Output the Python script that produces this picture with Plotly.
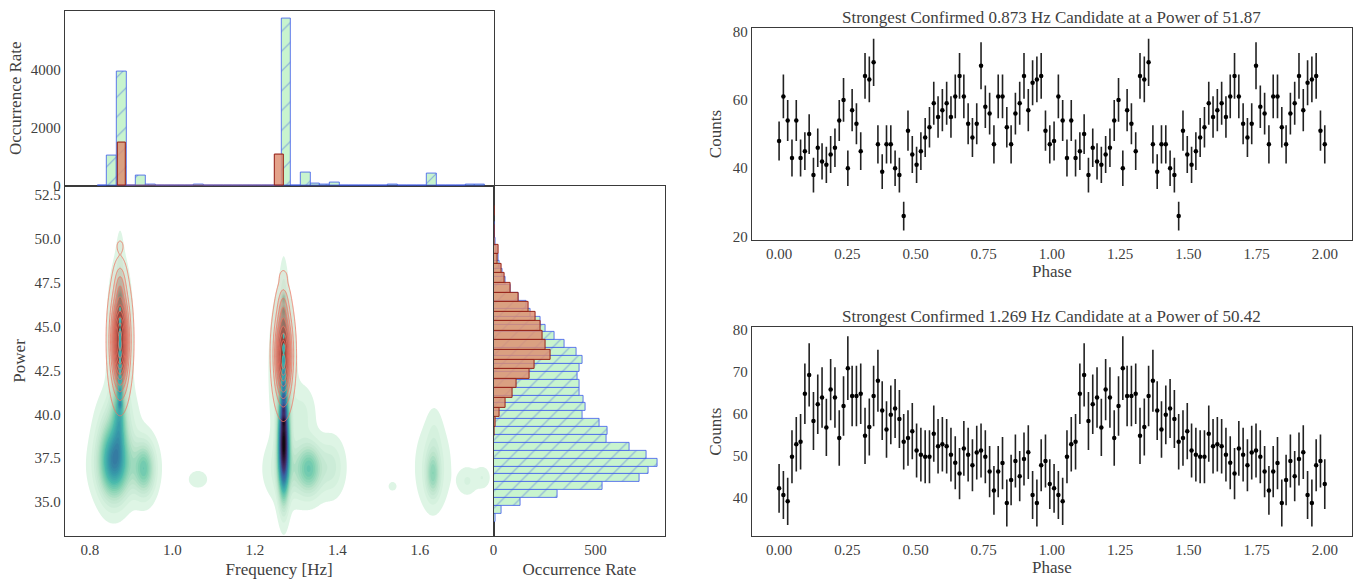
import numpy as np
import plotly.graph_objects as go

# ---------------- histogram of all candidates over frequency ----------------
freq_all_lo, freq_all_hi = 0.8182, 1.7576
freq_all_counts = [10, 1040, 3940, 15, 360, 60, 3, 5, 15, 2,
                   45, 5, 5, 15, 10, 3, 3, 2, 20, 5766,
                   10, 450, 90, 60, 130, 5, 3, 3, 3, 3,
                   50, 3, 2, 20, 416, 2, 15, 2, 60, 45]

# confirmed candidates over frequency
freq_conf_lo, freq_conf_hi = 0.8664, 1.2692
freq_conf_counts = [1486] + [0] * 17 + [1070]

# ---------------- histograms over power ----------------
pow_all_lo, pow_all_hi = 33.88, 51.87
pow_all_counts = [11, 40, 133, 316, 532, 716, 760, 804, 749, 668,
                  553, 560, 521, 438, 451, 440, 420, 423, 414, 423,
                  435, 407, 348, 301, 256, 228, 182, 163, 121, 85,
                  60, 44, 28, 25, 15, 8, 5, 4, 2, 1]

pow_conf_lo, pow_conf_hi = 38.75, 51.87
pow_conf_counts = [4, 11, 30, 60, 94, 112, 174, 199, 280, 257, 239, 228,
                   207, 170, 121, 81, 55, 41, 20, 23, 6, 5, 2, 3]

# ---------------- density components (frequency, power, widths, peak) ----------------
green_f = [0.857, 0.880, 0.932, 0.873, 0.870, 0.873, 0.868,
           1.270, 1.270, 1.268, 1.333, 1.385, 1.290, 1.314,
           1.062, 1.534, 1.632, 1.632, 1.635, 1.715, 1.752]
green_p = [37.4, 37.0, 36.9, 43.8, 40.0, 44.3, 39.5,
           38.3, 42.5, 42.5, 36.9, 37.0, 36.9, 40.0,
           36.3, 35.9, 36.6, 37.0, 38.8, 36.2, 36.4]
green_sf = [0.022, 0.040, 0.016, 0.0055, 0.011, 0.0175, 0.028,
            0.0085, 0.006, 0.018, 0.019, 0.020, 0.035, 0.020,
            0.015, 0.0075, 0.011, 0.026, 0.012, 0.015, 0.012]
green_sp = [1.35, 1.1, 0.95, 2.6, 1.4, 2.6, 1.3,
            1.75, 2.6, 2.6, 0.9, 1.0, 1.1, 1.0,
            0.32, 0.19, 0.85, 1.5, 1.0, 0.5, 0.4]
green_amp = [0.45, 0.11, 0.24, 0.22, 0.22, 0.09, 0.07,
             1.00, 0.22, 0.09, 0.24, 0.08, 0.11, 0.05,
             0.04, 0.03, 0.18, 0.055, 0.03, 0.045, 0.04]

# narrow spots along the two candidate ridges
ridge_a_p = [40.6, 41.3, 42.0, 42.7, 43.4, 44.0, 44.6, 45.3, 46.0, 46.7]
ridge_b_p = [39.6, 40.3, 41.0, 41.7, 42.4, 43.1, 43.8, 44.5, 45.2, 45.9, 46.6]
ridge_amp = 0.16

red_f = [0.873, 0.873, 0.873, 1.269, 1.269, 1.269]
red_p = [44.2, 47.5, 49.6, 43.4, 46.3, 47.85]
red_sf = [0.0139, 0.009, 0.006, 0.0135, 0.009, 0.006]
red_sp = [1.75, 0.8, 0.25, 1.6, 0.8, 0.25]
red_amp = [1.0, 0.15, 0.08, 0.85, 0.15, 0.08]

# ---------------- folded light curves ----------------
counts_873 = [48, 61, 54, 43, 54, 43, 45, 50, 38, 46,
              42, 41, 44, 46, 54, 60, 40, 57, 53, 45,
              67, 66, 71, 47, 39, 47, 47, 40, 38, 26,
              51, 44, 41, 45, 49, 52, 59, 55, 57, 59,
              55, 61, 67, 61, 53, 49, 53, 70, 58, 56,
              47, 61, 61, 52, 47, 56, 59, 67, 57, 65,
              66, 67, 51, 47]
err_873 = [5.7, 6.4, 6.0, 5.4, 6.0, 5.4, 5.5, 5.8, 5.1, 5.6,
           5.3, 5.3, 5.4, 5.6, 6.0, 6.4, 5.2, 6.2, 6.0, 5.5,
           6.7, 6.7, 6.9, 5.6, 5.1, 5.6, 5.6, 5.2, 5.1, 4.2,
           5.9, 5.4, 5.3, 5.5, 5.7, 5.9, 6.3, 6.1, 6.2, 6.3,
           6.1, 6.4, 6.7, 6.4, 6.0, 5.7, 6.0, 6.9, 6.2, 6.1,
           5.6, 6.4, 6.4, 5.9, 5.6, 6.1, 6.3, 6.7, 6.2, 6.6,
           6.7, 6.7, 5.9, 5.6]
counts_1269 = [42.2, 40.6, 39.1, 49.7, 52.7, 53.3, 64.7, 69.2, 58.2, 62.2,
               63.8, 56.7, 65.7, 63.8, 54.2, 61.8, 70.8, 64.2, 64.2, 64.7,
               54.7, 56.8, 64.2, 67.8, 60.7, 56.2, 59.7, 61.2, 58.7, 53.3,
               54.2, 55.8, 51.2, 50.2, 49.7, 49.7, 55.2, 52.2, 52.7, 52.2,
               50.2, 48.3, 45.7, 51.7, 50.2, 47.7, 50.7, 51.2, 49.7, 46.2,
               41.7, 46.2, 48.2, 38.7, 44.2, 48.7, 45.1, 49.2, 50.8, 40.6,
               38.7, 47.7, 48.7, 43.2]
err_1269 = [5.8, 5.7, 5.6, 6.3, 6.5, 6.6, 7.2, 7.5, 6.9, 7.1,
            7.2, 6.8, 7.3, 7.2, 6.6, 7.1, 7.6, 7.2, 7.2, 7.2,
            6.7, 6.8, 7.2, 7.4, 7.0, 6.7, 7.0, 7.0, 6.9, 6.6,
            6.6, 6.7, 6.4, 6.4, 6.3, 6.3, 6.7, 6.5, 6.5, 6.5,
            6.4, 6.3, 6.1, 6.5, 6.4, 6.2, 6.4, 6.4, 6.3, 6.1,
            5.8, 6.1, 6.2, 5.6, 6.0, 6.3, 6.0, 6.3, 6.4, 5.7,
            5.6, 6.2, 6.3, 5.9]
titles = ["Strongest Confirmed 0.873 Hz Candidate at a Power of 51.87",
          "Strongest Confirmed 1.269 Hz Candidate at a Power of 50.42"]

# ---------------- styling ----------------
FONT = "'Liberation Serif', 'DejaVu Serif', serif"
TXT = "#404040"
SPINE = "#3a3a3a"
GREEN_FILL = "rgb(200,244,206)"
GREEN_HATCH = "rgba(45,75,235,0.85)"
GREEN_EDGE = "rgba(60,90,235,0.8)"
RED_FILL = "rgba(222,142,112,0.82)"
RED_EDGE = "rgb(150,35,25)"

FREQ_RANGE = [0.739, 1.779]
POW_RANGE = [33.07, 53.02]

W, H = 1368, 585
def fx(px):
    return px / W
def fy(py):
    return 1 - py / H

dom_x_main = [fx(61), fx(491)]
dom_x_side = [fx(491), fx(663.3)]
dom_y_top = [fy(185), fy(5.7)]
dom_y_main = [fy(543), fy(185)]
dom_x_phase = [fx(750), fx(1352)]
dom_y_ph1 = [fy(240), fy(24)]
dom_y_ph2 = [fy(543.3), fy(329.3)]


def edges_to_centers(lo, hi, n):
    e = np.linspace(lo, hi, n + 1)
    return 0.5 * (e[:-1] + e[1:]), e[1] - e[0]


fig = go.Figure()

# ---------------- density map ----------------
fg = np.linspace(FREQ_RANGE[0], FREQ_RANGE[1], 521)
pg = np.linspace(POW_RANGE[0], POW_RANGE[1], 400)
F, P = np.meshgrid(fg, pg)


def mixture(fs, ps, sfs, sps, amps):
    z = np.zeros_like(F)
    for f0, p0, sf, sp, a in zip(fs, ps, sfs, sps, amps):
        z += a * np.exp(-0.5 * ((F - f0) / sf) ** 2 - 0.5 * ((P - p0) / sp) ** 2)
    return z


zg = mixture(green_f, green_p, green_sf, green_sp, green_amp)
zg += mixture([0.873] * len(ridge_a_p), ridge_a_p, [0.0035] * len(ridge_a_p),
              [0.2] * len(ridge_a_p), [ridge_amp] * len(ridge_a_p))
zg += mixture([1.270] * len(ridge_b_p), ridge_b_p, [0.0035] * len(ridge_b_p),
              [0.2] * len(ridge_b_p), [ridge_amp] * len(ridge_b_p))
zg = zg / zg.max()
zr = mixture(red_f, red_p, red_sf, red_sp, red_amp)
zr = zr / zr.max()

# mako colour ramp, light to dark
mako_r = [(222, 245, 229), (187, 228, 203), (129, 209, 177), (74, 186, 172),
          (56, 156, 170), (53, 123, 162), (57, 97, 161), (65, 61, 123),
          (63, 39, 93), (44, 21, 53), (11, 4, 5)]
mako_pos = np.linspace(0, 1, len(mako_r))


def mako_at(t):
    t = min(max(t, 0.0), 1.0)
    return tuple(float(np.interp(t, mako_pos, [c[k] for c in mako_r])) for k in range(3))


def level_scale(nc, cut=0.0):
    # band i is painted at fraction (i+1)/nc; background at 0
    f0 = 1.0 / nc
    first = max(cut, 0.5 / nc)
    stops = [[0.0, "rgba(255,255,255,0)"], [first, "rgba(255,255,255,0)"]]
    tcut = max((first - f0) / (1 - f0), 0.0)
    r, g, b = mako_at(tcut)
    stops.append([first + 1e-6, f"rgb({r:.0f},{g:.0f},{b:.0f})"])
    for t in np.linspace(0, 1, 41):
        frac = f0 + t * (1 - f0)
        if frac <= first + 1e-6:
            continue
        r, g, b = mako_at(t)
        stops.append([frac, f"rgb({r:.0f},{g:.0f},{b:.0f})"])
    return stops


g_start, g_end, g_n = 0.012, 1.0, 41
g_size = (g_end - g_start) / (g_n - 1)

fig.add_trace(go.Contour(
    x=fg, y=pg, z=zg, xaxis="x", yaxis="y", showscale=False,
    contours=dict(start=g_start, end=g_end, size=g_size, coloring="fill"),
    colorscale=level_scale(g_n), line=dict(width=0), hoverinfo="skip"))

r_start, r_end, r_n = 0.05, 0.95, 10
r_size = (r_end - r_start) / (r_n - 1)
fig.add_trace(go.Contour(
    x=fg, y=pg, z=zr, xaxis="x", yaxis="y", showscale=False,
    contours=dict(start=r_start, end=r_end, size=r_size, coloring="fill"),
    colorscale=[[0, "rgba(0,0,0,0)"], [0.5 / r_n, "rgba(0,0,0,0)"],
                [0.5 / r_n + 1e-6, "rgba(200,120,105,0.04)"],
                [0.4, "rgba(165,85,75,0.3)"],
                [0.7, "rgba(140,55,50,0.55)"],
                [1, "rgba(105,32,30,0.8)"]],
    line=dict(width=0), hoverinfo="skip"))

# ridge spots stay visible above the confirmed-candidate density
fig.add_trace(go.Contour(
    x=fg, y=pg, z=zg, xaxis="x", yaxis="y", showscale=False,
    contours=dict(start=g_start, end=g_end, size=g_size, coloring="fill"),
    colorscale=level_scale(g_n, cut=0.3), line=dict(width=0), hoverinfo="skip"))

fig.add_trace(go.Contour(
    x=fg, y=pg, z=zr, xaxis="x", yaxis="y", showscale=False,
    contours=dict(start=r_start, end=r_end, size=r_size, coloring="none"),
    line=dict(width=0.9, color="rgba(242,118,100,0.9)"), hoverinfo="skip"))

# ---------------- frequency histograms ----------------
c, w = edges_to_centers(freq_all_lo, freq_all_hi, len(freq_all_counts))
fig.add_trace(go.Bar(
    x=c, y=freq_all_counts, width=w, xaxis="x2", yaxis="y2",
    marker=dict(color=GREEN_FILL, line=dict(color=GREEN_EDGE, width=1),
                pattern=dict(shape="/", fgcolor=GREEN_HATCH, bgcolor=GREEN_FILL,
                             size=14, solidity=0.08)),
    hoverinfo="skip"))
c, w = edges_to_centers(freq_conf_lo, freq_conf_hi, len(freq_conf_counts))
fig.add_trace(go.Bar(
    x=c, y=freq_conf_counts, width=w, xaxis="x2", yaxis="y2",
    marker=dict(color=RED_FILL, line=dict(color="rgba(200,90,80,0.3)", width=1)),
    hoverinfo="skip"))
# outline the occupied confirmed bins more strongly
fig.add_trace(go.Bar(
    x=[c[i] for i in range(len(c)) if freq_conf_counts[i] > 0],
    y=[v for v in freq_conf_counts if v > 0], width=w, xaxis="x2", yaxis="y2",
    marker=dict(color="rgba(0,0,0,0)", line=dict(color=RED_EDGE, width=1)),
    hoverinfo="skip"))

# ---------------- power histograms ----------------
c, w = edges_to_centers(pow_all_lo, pow_all_hi, len(pow_all_counts))
fig.add_trace(go.Bar(
    y=c, x=pow_all_counts, width=w, orientation="h", xaxis="x3", yaxis="y3",
    marker=dict(color=GREEN_FILL, line=dict(color=GREEN_EDGE, width=1),
                pattern=dict(shape="/", fgcolor=GREEN_HATCH, bgcolor=GREEN_FILL,
                             size=12, solidity=0.09)),
    hoverinfo="skip"))
c, w = edges_to_centers(pow_conf_lo, pow_conf_hi, len(pow_conf_counts))
fig.add_trace(go.Bar(
    y=c, x=pow_conf_counts, width=w, orientation="h", xaxis="x3", yaxis="y3",
    marker=dict(color=RED_FILL, line=dict(color=RED_EDGE, width=1)),
    hoverinfo="skip"))

# ---------------- folded light curves (two cycles) ----------------
phase = np.linspace(0, 2, 2 * len(counts_873))
for k, (cts, err) in enumerate([(counts_873, err_873), (counts_1269, err_1269)]):
    ax = str(4 + k)
    fig.add_trace(go.Scatter(
        x=phase, y=list(cts) * 2, mode="markers", xaxis="x" + ax, yaxis="y" + ax,
        marker=dict(color="black", size=4.5),
        error_y=dict(type="data", array=list(err) * 2, visible=True,
                     color="#222222", thickness=1.6, width=0),
        hoverinfo="skip"))

tickfont = dict(family=FONT, size=15, color=TXT)
titlefont = dict(family=FONT, size=17, color=TXT)


def axis(domain, rng, anchor, **kw):
    d = dict(domain=domain, range=rng, anchor=anchor, showline=True, mirror=True,
             linecolor=SPINE, linewidth=1.2, showgrid=False, zeroline=False,
             ticks="", tickfont=tickfont, fixedrange=True)
    d.update(kw)
    return d


layout = dict(
    width=W, height=H, margin=dict(l=0, r=0, t=0, b=0),
    paper_bgcolor="white", plot_bgcolor="white", showlegend=False,
    barmode="overlay", bargap=0,
    font=dict(family=FONT, color=TXT),
    xaxis=axis(dom_x_main, FREQ_RANGE, "y",
               tickvals=[0.8, 1.0, 1.2, 1.4, 1.6], tickformat=".1f",
               title=dict(text="Frequency [Hz]", font=titlefont, standoff=6)),
    yaxis=axis(dom_y_main, POW_RANGE, "x",
               tickvals=[35.0, 37.5, 40.0, 42.5, 45.0, 47.5, 50.0, 52.5], tickformat=".1f",
               title=dict(text="Power", font=titlefont, standoff=4)),
    xaxis2=axis(dom_x_main, FREQ_RANGE, "y2", showticklabels=False),
    yaxis2=axis(dom_y_top, [0, 6054], "x2", tickvals=[0, 2000, 4000],
                title=dict(text="Occurrence Rate", font=titlefont, standoff=4)),
    xaxis3=axis(dom_x_side, [0, 842], "y3", tickvals=[0, 500],
                title=dict(text="Occurrence Rate", font=titlefont, standoff=6)),
    yaxis3=axis(dom_y_main, POW_RANGE, "x3", showticklabels=False),
    xaxis4=axis(dom_x_phase, [-0.1, 2.1], "y4",
                tickvals=[0, 0.25, 0.5, 0.75, 1.0, 1.25, 1.5, 1.75, 2.0], tickformat=".2f",
                title=dict(text="Phase", font=titlefont, standoff=0)),
    yaxis4=axis(dom_y_ph1, [19.1, 80.9], "x4", tickvals=[20, 40, 60, 80],
                title=dict(text="Counts", font=titlefont, standoff=6)),
    xaxis5=axis(dom_x_phase, [-0.1, 2.1], "y5",
                tickvals=[0, 0.25, 0.5, 0.75, 1.0, 1.25, 1.5, 1.75, 2.0], tickformat=".2f",
                title=dict(text="Phase", font=titlefont, standoff=2)),
    yaxis5=axis(dom_y_ph2, [30.8, 80.6], "x5", tickvals=[40, 50, 60, 70, 80],
                title=dict(text="Counts", font=titlefont, standoff=6)),
    annotations=[
        dict(text=titles[0], xref="paper", yref="paper",
             x=0.5 * (dom_x_phase[0] + dom_x_phase[1]), y=dom_y_ph1[1],
             xanchor="center", yanchor="bottom", showarrow=False, yshift=-1,
             font=dict(family=FONT, size=17, color=TXT)),
        dict(text=titles[1], xref="paper", yref="paper",
             x=0.5 * (dom_x_phase[0] + dom_x_phase[1]), y=dom_y_ph2[1],
             xanchor="center", yanchor="bottom", showarrow=False, yshift=-1,
             font=dict(family=FONT, size=17, color=TXT)),
    ],
)
fig.update_layout(**layout)
fig.write_html("out.html")
